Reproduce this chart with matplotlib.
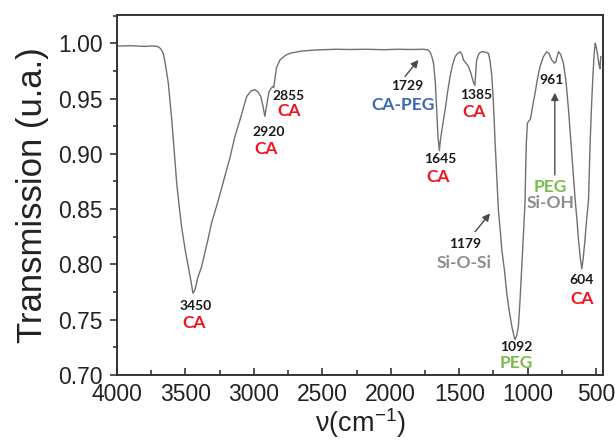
import matplotlib
matplotlib.use("Agg")
import matplotlib.pyplot as plt
from matplotlib.ticker import MultipleLocator

plt.rcParams["font.family"] = ["Liberation Sans", "DejaVu Sans"]
plt.rcParams["mathtext.fontset"] = "custom"
plt.rcParams["mathtext.rm"] = "Liberation Sans"

# FTIR spectrum (wavenumber in cm-1, transmission)
wavenumber = [
    4000, 3900, 3800, 3740, 3700, 3680, 3662, 3645, 3625, 3600, 3580, 3564,
    3545, 3527, 3500, 3479, 3460, 3445, 3430, 3410, 3382, 3340, 3308, 3260,
    3220, 3174, 3140, 3101, 3052, 3020, 2992, 2970, 2950, 2935, 2920, 2908,
    2890, 2875, 2862, 2855, 2846, 2835, 2809, 2770, 2736, 2650, 2541, 2400,
    2300, 2176, 2050, 1950, 1850, 1762, 1730, 1713, 1700, 1688, 1675, 1665,
    1655, 1645, 1638, 1620, 1603, 1585, 1567, 1550, 1530, 1510, 1494, 1480,
    1470, 1450, 1433, 1415, 1397, 1386, 1380, 1373, 1355, 1335, 1310, 1287,
    1275, 1262, 1250, 1238, 1226, 1214, 1200, 1189, 1170, 1153, 1135, 1116,
    1100, 1092, 1080, 1068, 1055, 1043, 1030, 1019, 1015, 1010, 1002, 990,
    982, 975, 960, 946, 930, 910, 885, 861, 845, 825, 805, 795, 785, 775,
    760, 739, 720, 702, 685, 665, 653, 640, 629, 615, 605, 595, 582, 570,
    556, 550, 544, 535, 524, 515, 507, 500, 490, 480, 472, 470, 466,
]
transmission = [
    0.9975, 0.9978, 0.9972, 0.9976, 0.9970, 0.9950, 0.991, 0.980, 0.964, 0.931, 0.899, 0.874,
    0.852, 0.833, 0.812, 0.798, 0.785, 0.774, 0.777, 0.788, 0.798, 0.820, 0.838, 0.858,
    0.876, 0.897, 0.915, 0.931, 0.952, 0.957, 0.958, 0.956, 0.952, 0.944, 0.934, 0.943,
    0.956, 0.959, 0.961, 0.960, 0.968, 0.978, 0.985, 0.989, 0.991, 0.993, 0.994, 0.9946,
    0.9944, 0.9946, 0.9942, 0.9946, 0.9944, 0.9946, 0.9940, 0.992, 0.988, 0.982, 0.965, 0.940,
    0.915, 0.903, 0.912, 0.927, 0.940, 0.956, 0.970, 0.980, 0.988, 0.991, 0.9924, 0.990,
    0.985, 0.982, 0.979, 0.973, 0.965, 0.962, 0.972, 0.985, 0.991, 0.9924, 0.992, 0.991,
    0.984, 0.970, 0.945, 0.910, 0.880, 0.849, 0.830, 0.813, 0.795, 0.774, 0.758, 0.744,
    0.735, 0.732, 0.736, 0.744, 0.770, 0.798, 0.830, 0.858, 0.885, 0.910, 0.928, 0.930,
    0.931, 0.935, 0.946, 0.955, 0.967, 0.979, 0.988, 0.9924, 0.991, 0.985, 0.982, 0.983,
    0.988, 0.9924, 0.990, 0.982, 0.965, 0.940, 0.912, 0.879, 0.858, 0.840, 0.822, 0.805,
    0.796, 0.805, 0.822, 0.840, 0.858, 0.885, 0.910, 0.940, 0.970, 0.990, 1.000, 0.997,
    0.990, 0.981, 0.977, 0.982, 0.988,
]

# peak labels: band number, its position, assignment, its position, assignment colour
peak_numbers = ["3450", "2920", "2855", "1729", "1645", "1385", "961", "1179", "1092", "604"]
number_pos = [(3423, 0.7625), (2889, 0.920), (2748, 0.9525), (1883, 0.961), (1640, 0.8955),
              (1379, 0.9536), (824, 0.9668), (1457, 0.8186), (1080, 0.7257), (605, 0.786)]
group_names = ["CA", "CA", "CA", "CA-PEG", "CA", "CA", None, "Si-O-Si", "PEG", "CA"]
group_pos = [(3437, 0.747), (2911, 0.9044), (2741, 0.939), (1908, 0.9442), (1652, 0.8793),
             (1391, 0.9376), None, (1462, 0.801), (1085, 0.711), (605, 0.7687)]
group_colors = ["#f0141e", "#f0141e", "#f0141e", "#3b67b0", "#f0141e", "#f0141e", None,
                "#8c8c8c", "#7bbb4c", "#f0141e"]

green, grey = "#7bbb4c", "#8c8c8c"

fig = plt.figure(figsize=(6.15, 4.41), dpi=100)
ax = fig.add_axes([0.1902, 0.1497, 0.7903, 0.8163])

ax.plot(wavenumber, transmission, color="#707070", lw=1.0)

ax.set_xlim(4000, 450)
ax.xaxis.set_major_locator(MultipleLocator(500))
ax.xaxis.set_minor_locator(MultipleLocator(250))
ax.set_yticks([0.70, 0.75, 0.80, 0.85, 0.90, 0.95, 1.00])
ax.set_yticklabels([f"{v:.2f}" for v in ax.get_yticks()])
ax.yaxis.set_minor_locator(MultipleLocator(0.025))
ax.set_ylim(0.70, 1.0256)

for s in ax.spines.values():
    s.set_linewidth(1.4)
    s.set_color("#333333")
ax.tick_params(axis="x", which="major", direction="in", length=5, width=1.2,
               labelsize=16.5, pad=6, colors="#333333", labelcolor="#222222")
ax.tick_params(axis="x", which="minor", direction="in", length=3.5, width=1.2, colors="#333333")
ax.tick_params(axis="y", which="major", direction="out", length=5, width=1.2,
               labelsize=16.5, pad=5, colors="#333333", labelcolor="#222222")
ax.tick_params(axis="y", which="minor", direction="out", length=3, width=1.2, colors="#333333")

ax.set_ylabel("Transmission (u.a.)", fontsize=25, color="#222222")
ax.yaxis.set_label_coords(-0.14, 0.5)
ax.set_xlabel(r"$\mathregular{\nu}$(cm$^{\mathregular{-1}}$)", fontsize=19.5, color="#222222")
ax.xaxis.set_label_coords(0.5, -0.088)

ann_font = ["Lato", "DejaVu Sans"]
for num, npos, grp, gpos, gcol in zip(peak_numbers, number_pos, group_names, group_pos, group_colors):
    ax.text(npos[0], npos[1], num, ha="center", va="center", fontsize=10,
            fontweight="bold", color="#1a1a1a", family=ann_font)
    if grp is not None:
        ax.text(gpos[0], gpos[1], grp, ha="center", va="center", fontsize=12.5,
                fontweight="bold", color=gcol, family=ann_font)

# the 961 band carries two assignments
ax.text(836, 0.870, "PEG", ha="center", va="center", fontsize=12.5,
        fontweight="bold", color=green, family=ann_font)
ax.text(836, 0.8553, "Si-OH", ha="center", va="center", fontsize=12.5,
        fontweight="bold", color=grey, family=ann_font)

arrow = dict(arrowstyle="-|>", color="#4a4a4a", lw=1.0, mutation_scale=11, shrinkA=0, shrinkB=0)
ax.annotate("", xy=(1798, 0.985), xytext=(1896, 0.970), arrowprops=arrow)
ax.annotate("", xy=(802, 0.9553), xytext=(802, 0.881), arrowprops=arrow)
ax.annotate("", xy=(1275, 0.8462), xytext=(1384, 0.8296), arrowprops=arrow)

fig.savefig("out.png", dpi=100)
